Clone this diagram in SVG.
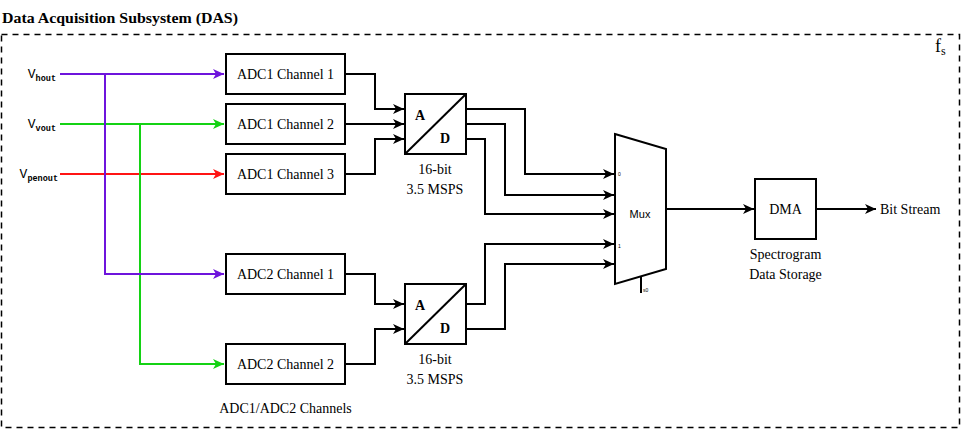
<svg xmlns="http://www.w3.org/2000/svg" width="962" height="430" viewBox="0 0 962 430">
<style>
  .box { fill: #fff; stroke: #000; stroke-width: 2; }
  .wire { fill: none; stroke: #000; stroke-width: 2; }
  .purple { fill: none; stroke: #6e14dc; stroke-width: 2; }
  .green { fill: none; stroke: #14d214; stroke-width: 2; }
  .red { fill: none; stroke: #ff1414; stroke-width: 2; }
</style>
<defs>
  <marker id="ak" markerUnits="userSpaceOnUse" markerWidth="14" markerHeight="12" viewBox="-11 -6 14 12" refX="0" refY="0" orient="auto">
    <path d="M-11,-5 L0,0 L-11,5 L-8,0 z" fill="#000"/>
  </marker>
  <marker id="ap" markerUnits="userSpaceOnUse" markerWidth="14" markerHeight="12" viewBox="-11 -6 14 12" refX="0" refY="0" orient="auto">
    <path d="M-11,-5 L0,0 L-11,5 L-8,0 z" fill="#6e14dc"/>
  </marker>
  <marker id="ag" markerUnits="userSpaceOnUse" markerWidth="14" markerHeight="12" viewBox="-11 -6 14 12" refX="0" refY="0" orient="auto">
    <path d="M-11,-5 L0,0 L-11,5 L-8,0 z" fill="#14d214"/>
  </marker>
  <marker id="ar" markerUnits="userSpaceOnUse" markerWidth="14" markerHeight="12" viewBox="-11 -6 14 12" refX="0" refY="0" orient="auto">
    <path d="M-11,-5 L0,0 L-11,5 L-8,0 z" fill="#ff1414"/>
  </marker>
</defs>
<rect width="962" height="430" fill="#fff"/>

<g font-family="'Liberation Serif', 'DejaVu Serif', serif" fill="#000">
<text id="title" x="2" y="23" font-size="14" font-weight="bold" textLength="236" lengthAdjust="spacingAndGlyphs">Data Acquisition Subsystem (DAS)</text>
<text id="fs" x="935" y="52" font-size="18">f<tspan font-size="12" dy="3">s</tspan></text>
</g>
<rect id="das-frame" x="1.5" y="34.5" width="958" height="393" fill="none" stroke="#000" stroke-width="1.5" stroke-dasharray="6,5"/>

<g id="inputs" font-family="'Liberation Mono', 'DejaVu Sans Mono', monospace" fill="#000" text-anchor="end">
  <text id="in-hout" x="56" y="78" font-size="13">V<tspan font-size="8.5" font-weight="bold" dy="3">hout</tspan></text>
  <text id="in-vout" x="56" y="128" font-size="13">V<tspan font-size="8.5" font-weight="bold" dy="3">vout</tspan></text>
  <text id="in-penout" x="58" y="178" font-size="13">V<tspan font-size="8.5" font-weight="bold" dy="3">penout</tspan></text>
</g>

<g id="connectors">
  <path class="red" d="M60,174 H224" marker-end="url(#ar)"/>
  <path class="green" d="M60,124 H224" marker-end="url(#ag)"/>
  <path class="green" d="M140,124 V364 H224" marker-end="url(#ag)"/>
  <path class="purple" d="M60,74 H224" marker-end="url(#ap)"/>
  <path class="purple" d="M105,74 V274 H224" marker-end="url(#ap)"/>

  <path class="wire" d="M345,74 H375 V109 H404" marker-end="url(#ak)"/>
  <path class="wire" d="M345,124 H404" marker-end="url(#ak)"/>
  <path class="wire" d="M345,174 H375 V139 H404" marker-end="url(#ak)"/>
  <path class="wire" d="M345,274 H375 V304 H404" marker-end="url(#ak)"/>
  <path class="wire" d="M345,364 H375 V329 H404" marker-end="url(#ak)"/>

  <path class="wire" d="M466,109 H525 V174 H614" marker-end="url(#ak)"/>
  <path class="wire" d="M466,124 H505 V195 H614" marker-end="url(#ak)"/>
  <path class="wire" d="M466,139 H485 V214 H614" marker-end="url(#ak)"/>
  <path class="wire" d="M466,304 H485 V244 H614" marker-end="url(#ak)"/>
  <path class="wire" d="M466,329 H505 V264 H614" marker-end="url(#ak)"/>

  <path class="wire" d="M666,209 H754" marker-end="url(#ak)"/>
  <path class="wire" d="M816,209 H876" marker-end="url(#ak)"/>
  <path class="wire" d="M641,277 V293" stroke-width="1.5"/>
</g>

<g font-family="'Liberation Serif', 'DejaVu Serif', serif" font-size="14" text-anchor="middle" fill="#000">
<g id="adc1-ch1"><rect class="box" x="226" y="54" width="119" height="40"/><text x="285.5" y="79">ADC1 Channel 1</text></g>
<g id="adc1-ch2"><rect class="box" x="226" y="104" width="119" height="40"/><text x="285.5" y="129">ADC1 Channel 2</text></g>
<g id="adc1-ch3"><rect class="box" x="226" y="154" width="119" height="40"/><text x="285.5" y="179">ADC1 Channel 3</text></g>
<g id="adc2-ch1"><rect class="box" x="226" y="254" width="119" height="40"/><text x="285.5" y="279">ADC2 Channel 1</text></g>
<g id="adc2-ch2"><rect class="box" x="226" y="344" width="119" height="40"/><text x="285.5" y="369">ADC2 Channel 2</text></g>
<text id="channels-caption" x="285.5" y="413">ADC1/ADC2 Channels</text>

<g id="adc1-converter">
  <rect class="box" x="405" y="94" width="61" height="60"/>
  <path class="wire" d="M405,154 L466,94"/>
  <text x="420" y="120" font-weight="bold">A</text>
  <text x="445" y="143" font-weight="bold">D</text>
  <text x="435" y="174">16-bit</text>
  <text x="435" y="194">3.5 MSPS</text>
</g>
<g id="adc2-converter">
  <rect class="box" x="405" y="284" width="61" height="60"/>
  <path class="wire" d="M405,344 L466,284"/>
  <text x="420" y="310" font-weight="bold">A</text>
  <text x="445" y="333" font-weight="bold">D</text>
  <text x="435" y="364">16-bit</text>
  <text x="435" y="384">3.5 MSPS</text>
</g>

<g id="dma">
  <rect class="box" x="755" y="179" width="61" height="60"/>
  <text x="785.5" y="214">DMA</text>
  <text x="785.5" y="259">Spectrogram</text>
  <text x="785.5" y="279">Data Storage</text>
</g>

<text id="bit-stream" x="880" y="214" text-anchor="start">Bit Stream</text>
</g>

<g id="mux" font-family="'Liberation Sans', Arial, sans-serif" fill="#000">
  <path class="box" d="M615,134 L666,149 L666,269 L615,284 Z"/>
  <text x="640" y="218" font-size="11" text-anchor="middle">Mux</text>
  <text x="618" y="176" font-size="5">0</text>
  <text x="618" y="248" font-size="5">1</text>
  <text x="643" y="292" font-size="5">s0</text>
</g>
</svg>
